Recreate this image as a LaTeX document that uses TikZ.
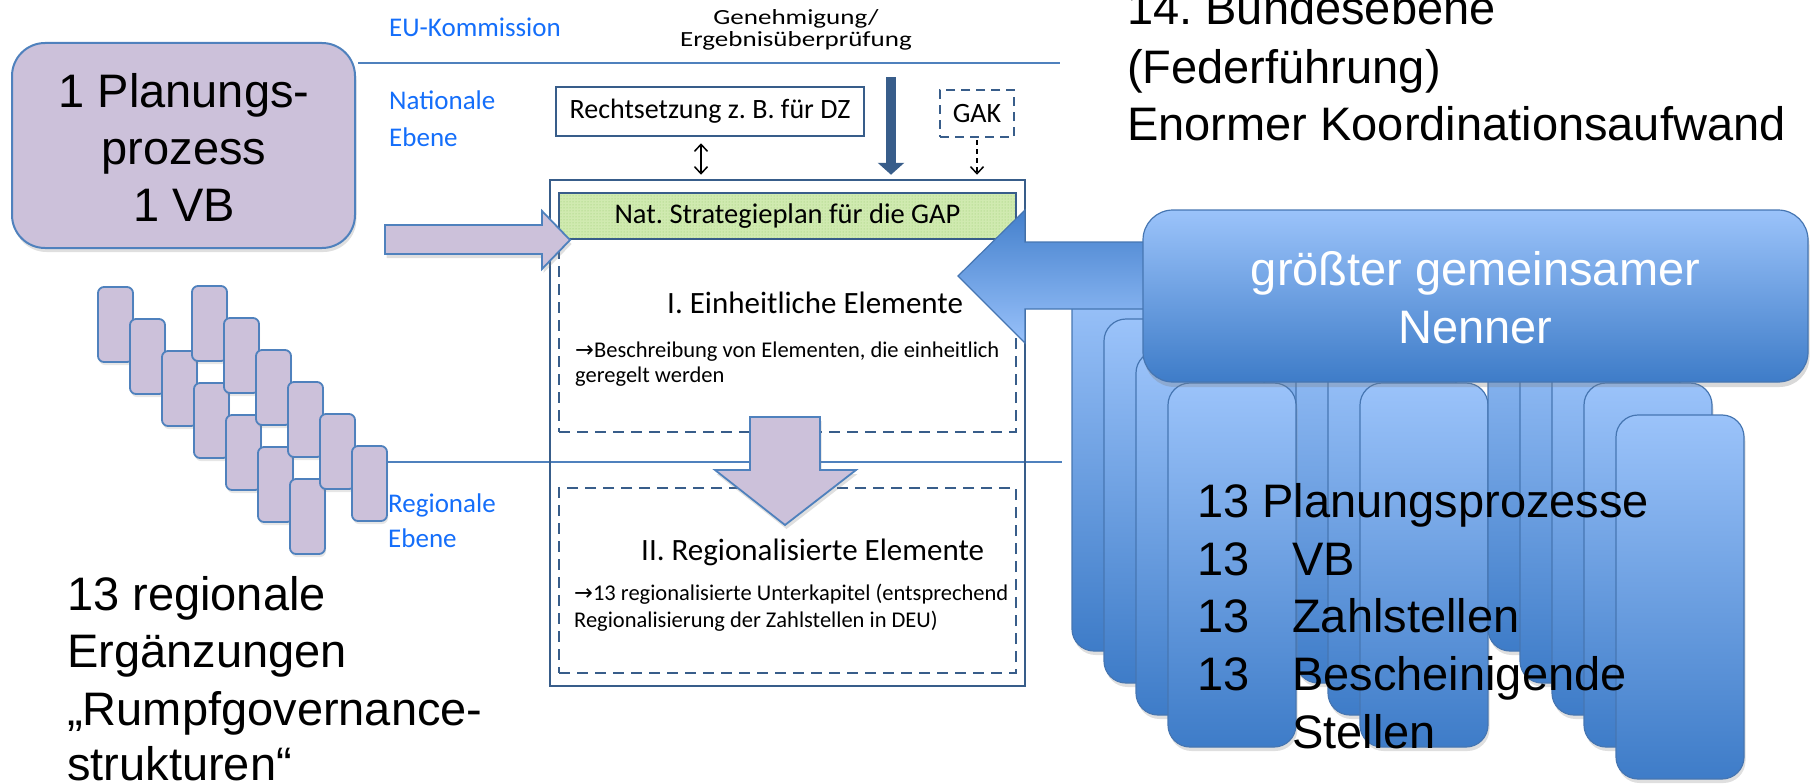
\documentclass[tikz,border=0pt]{standalone}
\usepackage{fontspec}
\setmainfont{Liberation Sans}
\newfontfamily\carlito{Carlito}
\newfontfamily\djv{DejaVu Sans}
\usetikzlibrary{arrows.meta,shadows,patterns}
\frenchspacing
\definecolor{lav}{RGB}{204,193,218}
\definecolor{lavline}{RGB}{79,129,189}
\definecolor{dkblue}{RGB}{56,93,138}
\definecolor{lblue}{RGB}{20,110,250}
\definecolor{sepline}{RGB}{79,129,189}
\definecolor{bluetop}{RGB}{155,195,250}
\definecolor{bluebot}{RGB}{62,124,200}
\definecolor{blueline}{RGB}{70,118,178}
\definecolor{arrtop}{RGB}{68,128,204}
\definecolor{arrbot}{RGB}{152,193,250}
\definecolor{greenfill}{RGB}{208,234,176}
\definecolor{greendot}{RGB}{150,200,110}
\begin{document}
\begin{tikzpicture}[x=1pt,y=-1pt,
 bigtxt/.style={font=\fontsize{47}{57}\selectfont, inner sep=0pt, anchor=base west},
 lbl/.style={font=\carlito\fontsize{27}{35}\selectfont, text=lblue, inner sep=0pt, anchor=base west},
 caltxt/.style={font=\carlito\fontsize{28}{34}\selectfont},
 smalltxt/.style={font=\carlito\fontsize{22.5}{27}\selectfont, inner sep=0pt, anchor=base west},
 headtxt/.style={font=\carlito\fontsize{31}{37}\selectfont, inner sep=0pt, anchor=base west},
 boxline/.style={draw=dkblue, line width=2.5pt, inner sep=0pt},
 dboxline/.style={boxline, dash pattern=on 11pt off 7pt},
 sepln/.style={draw=sepline, line width=1.2pt},
 purp/.style={draw=lavline, fill=lav, line width=2pt},
 shad/.style={drop shadow={opacity=0.25, shadow xshift=1.5pt, shadow yshift=-4pt}},
 bbox/.style={draw=blueline, line width=1.2pt, rounded corners=22pt, top color=bluetop, bottom color=bluebot, shad},
 barb/.style={line width=1.5pt, draw=black}
]
\useasboundingbox (0,0) rectangle (1812,784);

% separators
\draw[sepln] (358,63) -- (1060,63);
\draw[sepln] (386,462) -- (1062,462);

% level labels
\node[lbl] (eu) at (389,37) {EU-Kommission};
\node[lbl] (nat1) at (389,110) {Nationale};
\node[lbl] (nat2) at (389,146) {Ebene};
\node[lbl] (reg1) at (388,512) {Regionale};
\node[lbl] (reg2) at (388,547) {Ebene};

\node[font=\carlito\fontsize{27}{30}\selectfont, inner sep=0pt, anchor=base] (gen1) at (796,25) {\scalebox{1}[0.8]{Genehmigung/}};
\node[font=\carlito\fontsize{27}{30}\selectfont, inner sep=0pt, anchor=base] (gen2) at (796,47) {\scalebox{1}[0.8]{Ergebnisüberprüfung}};

% left purple box
\node[purp, rounded corners=33pt, shad, minimum width=343pt, minimum height=205pt, inner sep=0pt] (vb) at (183.5,145.5) {};
\node[bigtxt, anchor=base] (vb1) at (184,107) {1 Planungs-};
\node[bigtxt, anchor=base] (vb2) at (184,164) {prozess};
\node[bigtxt, anchor=base] (vb3) at (184,221) {1 VB};

% small purple boxes
\foreach \i in {0,...,6}
  \path[purp, line width=1.8pt, rounded corners=6pt, drop shadow={opacity=0.2, shadow xshift=1pt, shadow yshift=-3pt}] ({98+32*\i},{287+32*\i}) rectangle ++(35,75);
\foreach \i in {0,...,5}
  \path[purp, line width=1.8pt, rounded corners=6pt, drop shadow={opacity=0.2, shadow xshift=1pt, shadow yshift=-3pt}] ({192+32*\i},{286+32*\i}) rectangle ++(35,75);

% left bottom text
\node[bigtxt] (lt1) at (67,610) {13 regionale};
\node[bigtxt] (lt2) at (67,667) {Ergänzungen};
\node[bigtxt] (lt3) at (67,725) {„Rumpfgovernance-};
\node[bigtxt] (lt4) at (67,780) {strukturen“};

% national boxes
\node[boxline, fill=white, caltxt, minimum width=308pt, minimum height=49pt] (recht) at (710,111.5) {Rechtsetzung z. B. für DZ};
\node[boxline, dash pattern=on 9pt off 6pt, fill=white, caltxt, minimum width=74pt, minimum height=47pt] (gak) at (977,113.5) {GAK};

% plan frame
\node[boxline, minimum width=475pt, minimum height=506pt] (outer) at (787.5,433) {};
\node[boxline, preaction={fill=greenfill}, preaction={pattern=dots, pattern color=greendot}, minimum width=457pt, minimum height=46pt, font=\carlito\fontsize{28.5}{34}\selectfont] (nsp) at (787.5,216) {Nat. Strategieplan für die GAP};
\node[dboxline, minimum width=457pt, minimum height=193pt] (d1) at (787.5,335.5) {};
\node[dboxline, minimum width=457pt, minimum height=185pt] (d2) at (787.5,580.5) {};

\node[headtxt] (t1) at (667,313) {I. Einheitliche Elemente};
\node[smalltxt] (t1a) at (575,357) {{\djv →}Beschreibung von Elementen, die einheitlich};
\node[smalltxt] (t1b) at (575,382) {geregelt werden};
\node[headtxt] (t2) at (641,560) {II. Regionalisierte Elemente};
\node[smalltxt] (t2a) at (574,600) {{\djv →}13 regionalisierte Unterkapitel (entsprechend};
\node[smalltxt] (t2b) at (574,627) {Regionalisierung der Zahlstellen in DEU)};

% connectors to the plan
\draw[barb, {Straight Barb[length=7pt,width=13pt]}-{Straight Barb[length=7pt,width=13pt]}, shorten <=6pt, shorten >=4pt]
  ([xshift=-9pt]recht.south) -- ([xshift=-9pt]recht.south |- outer.north);
\coordinate (thtop) at (891,77);
\draw[line width=10pt, draw=dkblue, -{Triangle[length=12pt,width=26pt]}, shorten >=4pt] (thtop) -- (thtop |- outer.north);
\draw[barb, dash pattern=on 5pt off 4pt, -{Straight Barb[length=7pt,width=13pt]}, shorten <=2pt, shorten >=4pt] (gak.south) -- (gak.south |- outer.north);

% purple block arrows
\path[purp, line width=1.8pt, shad] (385,225) -- (542,225) -- (542,211) -- (570,240) -- (542,269) -- (542,254) -- (385,254) -- cycle;
\path[purp, line width=1.8pt, shad] (750,417) -- (820,417) -- (820,470) -- (856,470) -- (785,525) -- (715,470) -- (750,470) -- cycle;

% blue stack of 13
\foreach \i in {0,...,3}
  \path[bbox] ({1264+32*\i},{287+32*\i}) rectangle ++(128,364);
\foreach \i in {0,...,4}
  \path[bbox] ({1488+32*\i},{287+32*\i}) rectangle ++(128,364);
\foreach \i in {0,...,3}
  \path[bbox] ({1072+32*\i},{287+32*\i}) rectangle ++(128,364);

% big blue arrow
\path[draw=blueline, line width=1.2pt, top color=arrtop, bottom color=arrbot] (1160,242) -- (1025,242) -- (1025,210) -- (958,276) -- (1025,343) -- (1025,309) -- (1160,309) -- cycle;

% common denominator box
\node[draw=blueline, line width=1.2pt, rounded corners=30pt, top color=bluetop, bottom color=bluebot, minimum width=665pt, minimum height=172pt, inner sep=0pt, drop shadow={opacity=0.3, shadow xshift=1.5pt, shadow yshift=-5pt}] (ggn) at (1475.5,296) {};
\node[bigtxt, anchor=base, text=white] (ggn1) at (1475.5,285) {größter gemeinsamer};
\node[bigtxt, anchor=base, text=white] (ggn2) at (1475.5,343) {Nenner};

% right list
\node[bigtxt] (r1) at (1197,517) {13 Planungsprozesse};
\node[bigtxt] (r2a) at (1197,575) {13};
\node[bigtxt] (r2b) at (1292,575) {VB};
\node[bigtxt] (r3a) at (1197,632) {13};
\node[bigtxt] (r3b) at (1292,632) {Zahlstellen};
\node[bigtxt] (r4a) at (1197,690) {13};
\node[bigtxt] (r4b) at (1292,690) {Bescheinigende};
\node[bigtxt] (r5b) at (1292,748) {Stellen};

% top right text
\node[bigtxt] (tr1) at (1127,25) {14. Bundesebene};
\node[bigtxt] (tr2) at (1127,83) {(Federführung)};
\node[bigtxt] (tr3) at (1127,140) {Enormer Koordinationsaufwand};
\end{tikzpicture}
\end{document}
